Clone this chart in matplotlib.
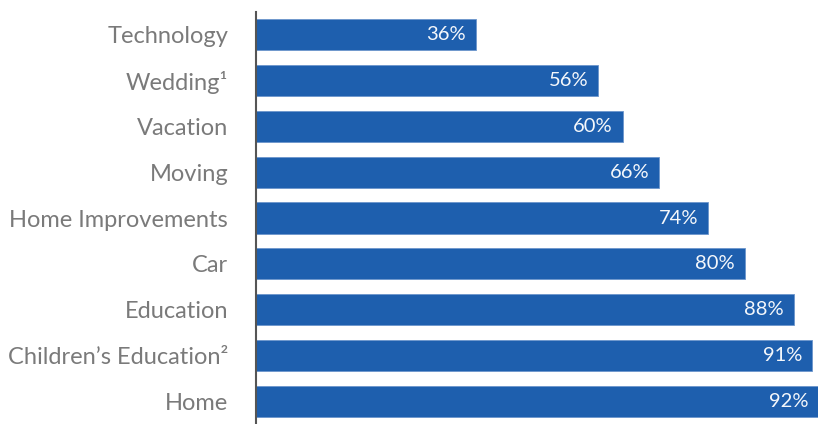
import matplotlib
matplotlib.use("Agg")
import matplotlib.pyplot as plt

categories = ["Technology", "Wedding¹", "Vacation", "Moving", "Home Improvements",
              "Car", "Education", "Children’s Education²", "Home"]
values = [36, 56, 60, 66, 74, 80, 88, 91, 92]
value_labels = ["36%", "56%", "60%", "66%", "74%", "80%", "88%", "91%", "92%"]

plt.rcParams['font.family'] = ['Lato', 'DejaVu Sans']

fig = plt.figure(figsize=(8.18, 4.24), dpi=100)
ax = fig.add_axes([256/818, 0.0, 1 - 256/818, (424 - 12) / 424])

bar_color = "#1E5FAE"
y = list(range(len(categories)))
ax.barh(y, values, height=0.68, color=bar_color, edgecolor="#6c95cc", linewidth=0.6)
ax.set_ylim(len(categories) - 0.5, -0.5)
ax.set_xlim(0, 92)

for yi, v, lab in zip(y, values, value_labels):
    ax.text(v - 1.6, yi, lab, color="#f4f7fb", ha="right", va="center",
            fontsize=14.5, fontweight="normal")

ax.set_yticks(y)
ax.set_yticklabels(categories, fontsize=17.0, color="#7a7a7a", fontweight="normal")
ax.tick_params(axis="y", length=0, pad=20)
ax.set_xticks([])
for s in ["top", "right", "bottom"]:
    ax.spines[s].set_visible(False)
ax.spines["left"].set_color("#555555")
ax.spines["left"].set_linewidth(1.5)

fig.savefig("out.png", dpi=100)
